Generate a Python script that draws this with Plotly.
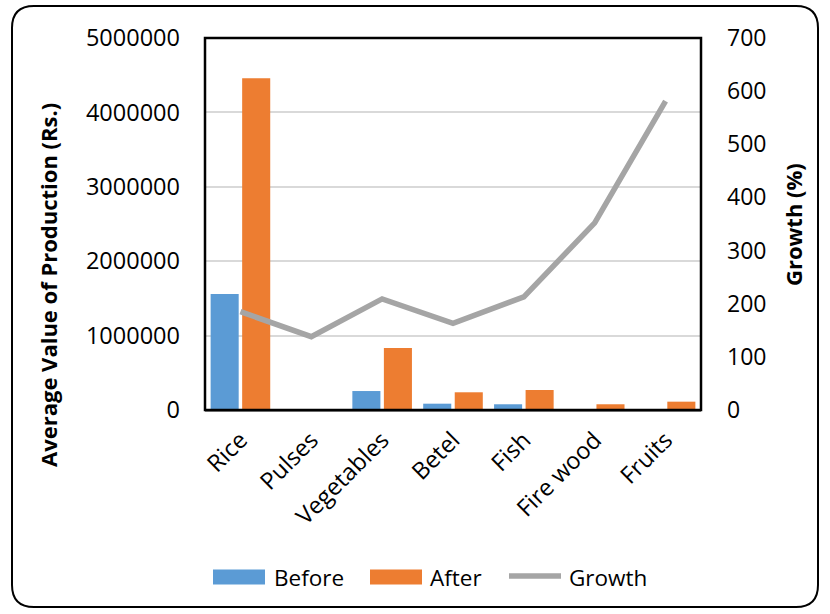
import plotly.graph_objects as go

# Average value of production before/after, with growth (%)
categories = ["Rice", "Pulses", "Vegetables", "Betel", "Fish", "Fire wood", "Fruits"]
before = [1560000, 3000, 255000, 85000, 77000, 3000, 3000]
after = [4460000, 5000, 833000, 238000, 269000, 77000, 112000]
growth = [185, 138, 209, 163, 213, 352, 581]

W, H = 830, 614
L, R, T, B = 205, 701, 38, 410  # plot area in pixels


def px(x):
    return (x - L) / (R - L)


def py(y):
    return (B - y) / (B - T)


FONT = "Open Sans"
BLUE, ORANGE, GREY = "#5B9BD5", "#ED7D31", "#A5A5A5"

fig = go.Figure()
fig.add_trace(go.Bar(x=categories, y=before, name="Before", marker_color=BLUE,
                     marker_line_width=0))
fig.add_trace(go.Bar(x=categories, y=after, name="After", marker_color=ORANGE,
                     marker_line_width=0))
fig.add_trace(go.Scatter(x=categories, y=growth, name="Growth", yaxis="y2", mode="lines",
                         line=dict(color=GREY, width=5.5)))

# outer rounded frame
r = 22
x0, x1, y0, y1 = 12, 818, 6, 607
path = (f"M {px(x0 + r)},{py(y0)} L {px(x1 - r)},{py(y0)} "
        f"Q {px(x1)},{py(y0)} {px(x1)},{py(y0 + r)} "
        f"L {px(x1)},{py(y1 - r)} Q {px(x1)},{py(y1)} {px(x1 - r)},{py(y1)} "
        f"L {px(x0 + r)},{py(y1)} Q {px(x0)},{py(y1)} {px(x0)},{py(y1 - r)} "
        f"L {px(x0)},{py(y0 + r)} Q {px(x0)},{py(y0)} {px(x0 + r)},{py(y0)} Z")

shapes = [
    dict(type="rect", xref="paper", yref="paper", x0=0, x1=1, y0=0, y1=1,
         line=dict(color="black", width=2.5), layer="above"),
    dict(type="path", xref="paper", yref="paper", path=path,
         line=dict(color="black", width=2)),
]

# legend keys drawn below the chart
LEG_Y = 577
legend_items = [
    ("Before", "rect", BLUE, 213, 265, 272),
    ("After", "rect", ORANGE, 370, 422, 428),
    ("Growth", "line", GREY, 509, 561, 567),
]
annotations = []
for label, kind, color, kx0, kx1, tx in legend_items:
    if kind == "rect":
        shapes.append(dict(type="rect", xref="paper", yref="paper",
                           x0=px(kx0), x1=px(kx1), y0=py(LEG_Y + 7.5), y1=py(LEG_Y - 7.5),
                           fillcolor=color, line=dict(width=0)))
    else:
        shapes.append(dict(type="line", xref="paper", yref="paper",
                           x0=px(kx0), x1=px(kx1), y0=py(LEG_Y - 1), y1=py(LEG_Y - 1),
                           line=dict(color=color, width=5.5)))
    annotations.append(dict(text=label, xref="paper", yref="paper", x=px(tx), y=py(LEG_Y),
                            xanchor="left", yanchor="middle", showarrow=False,
                            font=dict(size=22.5)))

annotations.append(dict(text="<b>Average Value of Production (Rs.)</b>", textangle=-90,
                        xref="paper", yref="paper", x=px(48), y=py(285),
                        xanchor="center", yanchor="middle", showarrow=False,
                        font=dict(size=22)))
annotations.append(dict(text="<b>Growth (%)</b>", textangle=-90,
                        xref="paper", yref="paper", x=px(793), y=py(225),
                        xanchor="center", yanchor="middle", showarrow=False,
                        font=dict(size=22)))

fig.update_layout(
    width=W, height=H,
    margin=dict(l=L, r=W - R, t=T, b=H - B, pad=0),
    paper_bgcolor="white", plot_bgcolor="white",
    font=dict(family=FONT, size=22, color="#000000"),
    barmode="group", bargap=0.11, bargroupgap=0.11,
    showlegend=False,
    xaxis=dict(tickangle=-45, showgrid=False, showline=True, linecolor="#8C8C8C",
               linewidth=2, ticks="", tickfont=dict(size=23.5), ticklabelstandoff=5),
    yaxis=dict(range=[0, 5000000], dtick=1000000, tickformat="d", showgrid=True,
               gridcolor="#D9D9D9", gridwidth=1.5, zeroline=False, ticks="",
               ticklabelstandoff=24, tickfont=dict(size=23.5)),
    yaxis2=dict(range=[0, 700], dtick=100, overlaying="y", side="right", showgrid=False,
                zeroline=False, ticks="", ticklabelstandoff=25, tickfont=dict(size=23)),
    shapes=shapes,
    annotations=annotations,
)

fig.write_html("out.html")
